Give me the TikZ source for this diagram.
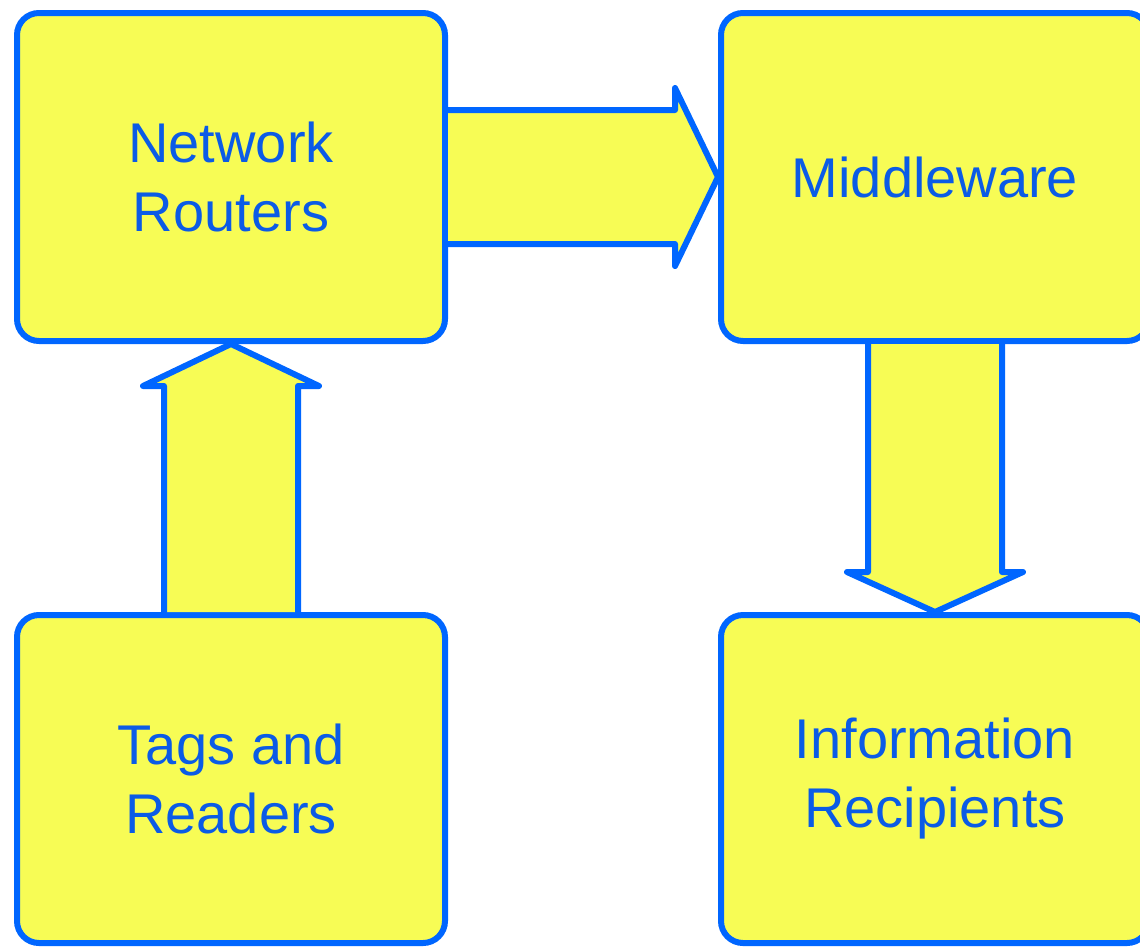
\documentclass[tikz,border=0pt]{standalone}
\usepackage{fontspec}
\setmainfont{Liberation Sans}
\usetikzlibrary{calc}
\definecolor{bblue}{HTML}{0066FF}
\definecolor{tblue}{HTML}{0B5BE6}
\definecolor{byellow}{HTML}{F7FC55}
\begin{document}
\begin{tikzpicture}[x=1pt,y=1pt,
  box/.style={draw=bblue,fill=byellow,line width=6pt,rounded corners=22pt,
    minimum width=428pt,minimum height=328pt,inner sep=0pt,
    text=tblue,align=center,font=\fontsize{56}{69}\selectfont},
  barrow/.style={draw=bblue,fill=byellow,line width=6pt,line join=round,line cap=round}]
\useasboundingbox (0,0) rectangle (1140,-946);
\node[box] (nr) at (231,-177) {Network\\Routers};
\node[box] (mw) at (935,-177) {Middleware};
\node[box] (tr) at (231,-779) {Tags and\\Readers};
\node[box] (ir) at (935,-779) {Information\\Recipients};
% right arrow
\draw[barrow] ($(nr.east)+(0,67)$) -- ($(mw.west)+(-43,67)$) -- ($(mw.west)+(-43,89)$)
  -- (mw.west) -- ($(mw.west)+(-43,-89)$) -- ($(mw.west)+(-43,-67)$)
  -- ($(nr.east)+(0,-67)$);
% up arrow
\draw[barrow] ($(tr.north)+(-67,0)$) -- ($(nr.south)+(-67,-42)$) -- ($(nr.south)+(-88,-42)$)
  -- (nr.south) -- ($(nr.south)+(88,-42)$) -- ($(nr.south)+(67,-42)$)
  -- ($(tr.north)+(67,0)$);
% down arrow
\draw[barrow] ($(mw.south)+(-67,0)$) -- ($(ir.north)+(-67,40)$) -- ($(ir.north)+(-88,40)$)
  -- (ir.north) -- ($(ir.north)+(88,40)$) -- ($(ir.north)+(67,40)$)
  -- ($(mw.south)+(67,0)$);
\end{tikzpicture}
\end{document}
